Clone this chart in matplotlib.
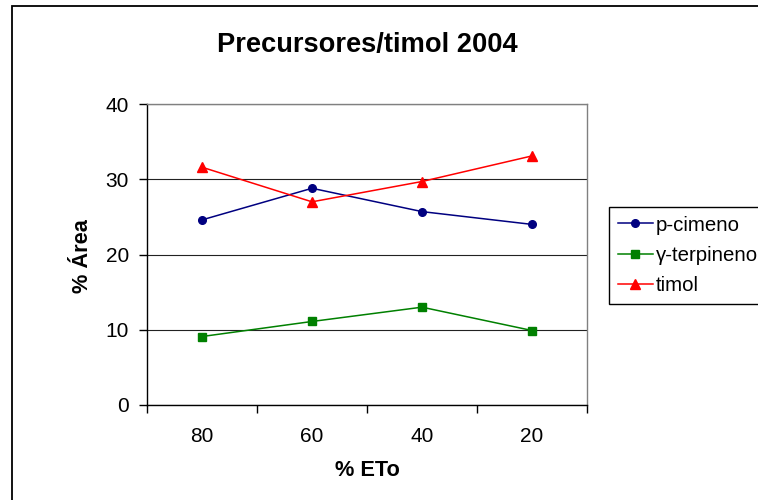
import matplotlib
matplotlib.use("Agg")
import matplotlib.pyplot as plt
from matplotlib.patches import Rectangle

# Data
categories = ["80", "60", "40", "20"]
p_cimeno = [24.6, 28.8, 25.7, 24.0]
g_terpineno = [9.1, 11.1, 13.0, 9.9]
timol = [31.6, 27.0, 29.7, 33.1]

title = "Precursores/timol 2004"
x_label = "% ETo"
y_label = "% Área"
y_ticks = [0, 10, 20, 30, 40]

plt.rcParams["font.family"] = ["Liberation Sans", "DejaVu Sans"]

W, H = 758, 500
fig = plt.figure(figsize=(W / 100, H / 100), dpi=100)

# outer chart frame (runs off the right and bottom edges)
fig.patches.append(Rectangle((11.5 / W, -0.1), 1.2, 1.1 - 6.5 / H,
                             transform=fig.transFigure, fill=False,
                             edgecolor="black", linewidth=1.3))

ax = fig.add_axes([147 / W, 95 / H, 440 / W, 301 / H])
xs = list(range(1, len(categories) + 1))

ax.plot(xs, p_cimeno, color="#000080", marker="o", markersize=5.5, linewidth=1.1,
        label="p-cimeno")
ax.plot(xs, g_terpineno, color="#008000", marker="s", markersize=5.3, linewidth=1.1,
        label="γ-terpineno")
ax.plot(xs, timol, color="#FF0000", marker="^", markersize=6.5, linewidth=1.1,
        label="timol")

ax.set_xlim(0.5, len(categories) + 0.5)
ax.set_ylim(0, 40)
ax.set_yticks(y_ticks)
ax.set_yticklabels([str(v) for v in y_ticks])
ax.yaxis.grid(True, color="#222222", linewidth=0.8)
ax.set_axisbelow(True)

# category boundaries carry the tick marks, category centres carry the labels
ax.set_xticks([i + 0.5 for i in range(len(categories) + 1)])
ax.set_xticklabels([])
ax.set_xticks(xs, minor=True)
ax.set_xticklabels(categories, minor=True)
ax.tick_params(axis="x", which="major", direction="out", length=6, width=1)
ax.tick_params(axis="x", which="minor", length=0, pad=16, labelsize=15)
ax.tick_params(axis="y", direction="out", length=6, width=1, pad=7, labelsize=15)

ax.spines["left"].set_color("black")
ax.spines["bottom"].set_color("black")
ax.spines["top"].set_color("#808080")
ax.spines["right"].set_color("#808080")
for s in ax.spines.values():
    s.set_linewidth(1)

fig.text(367 / W, 1 - 45 / H, title, ha="center", va="center", fontsize=19.6,
         fontweight="bold")
fig.text(367 / W, 1 - 470 / H, x_label, ha="center", va="center", fontsize=15.7,
         fontweight="bold")
fig.text(83 / W, 1 - 256 / H, y_label, ha="center", va="center", fontsize=15.7,
         fontweight="bold", rotation=90)

leg = fig.legend(loc="upper left", bbox_to_anchor=(609 / W, 1 - 207 / H),
                 bbox_transform=fig.transFigure, borderaxespad=0, fontsize=14.7,
                 frameon=True, fancybox=False, edgecolor="black", framealpha=1,
                 handlelength=1.75, handletextpad=0.12, borderpad=0.42,
                 labelspacing=0.55)
leg.get_frame().set_linewidth(1)

fig.savefig("out.png", dpi=100)
